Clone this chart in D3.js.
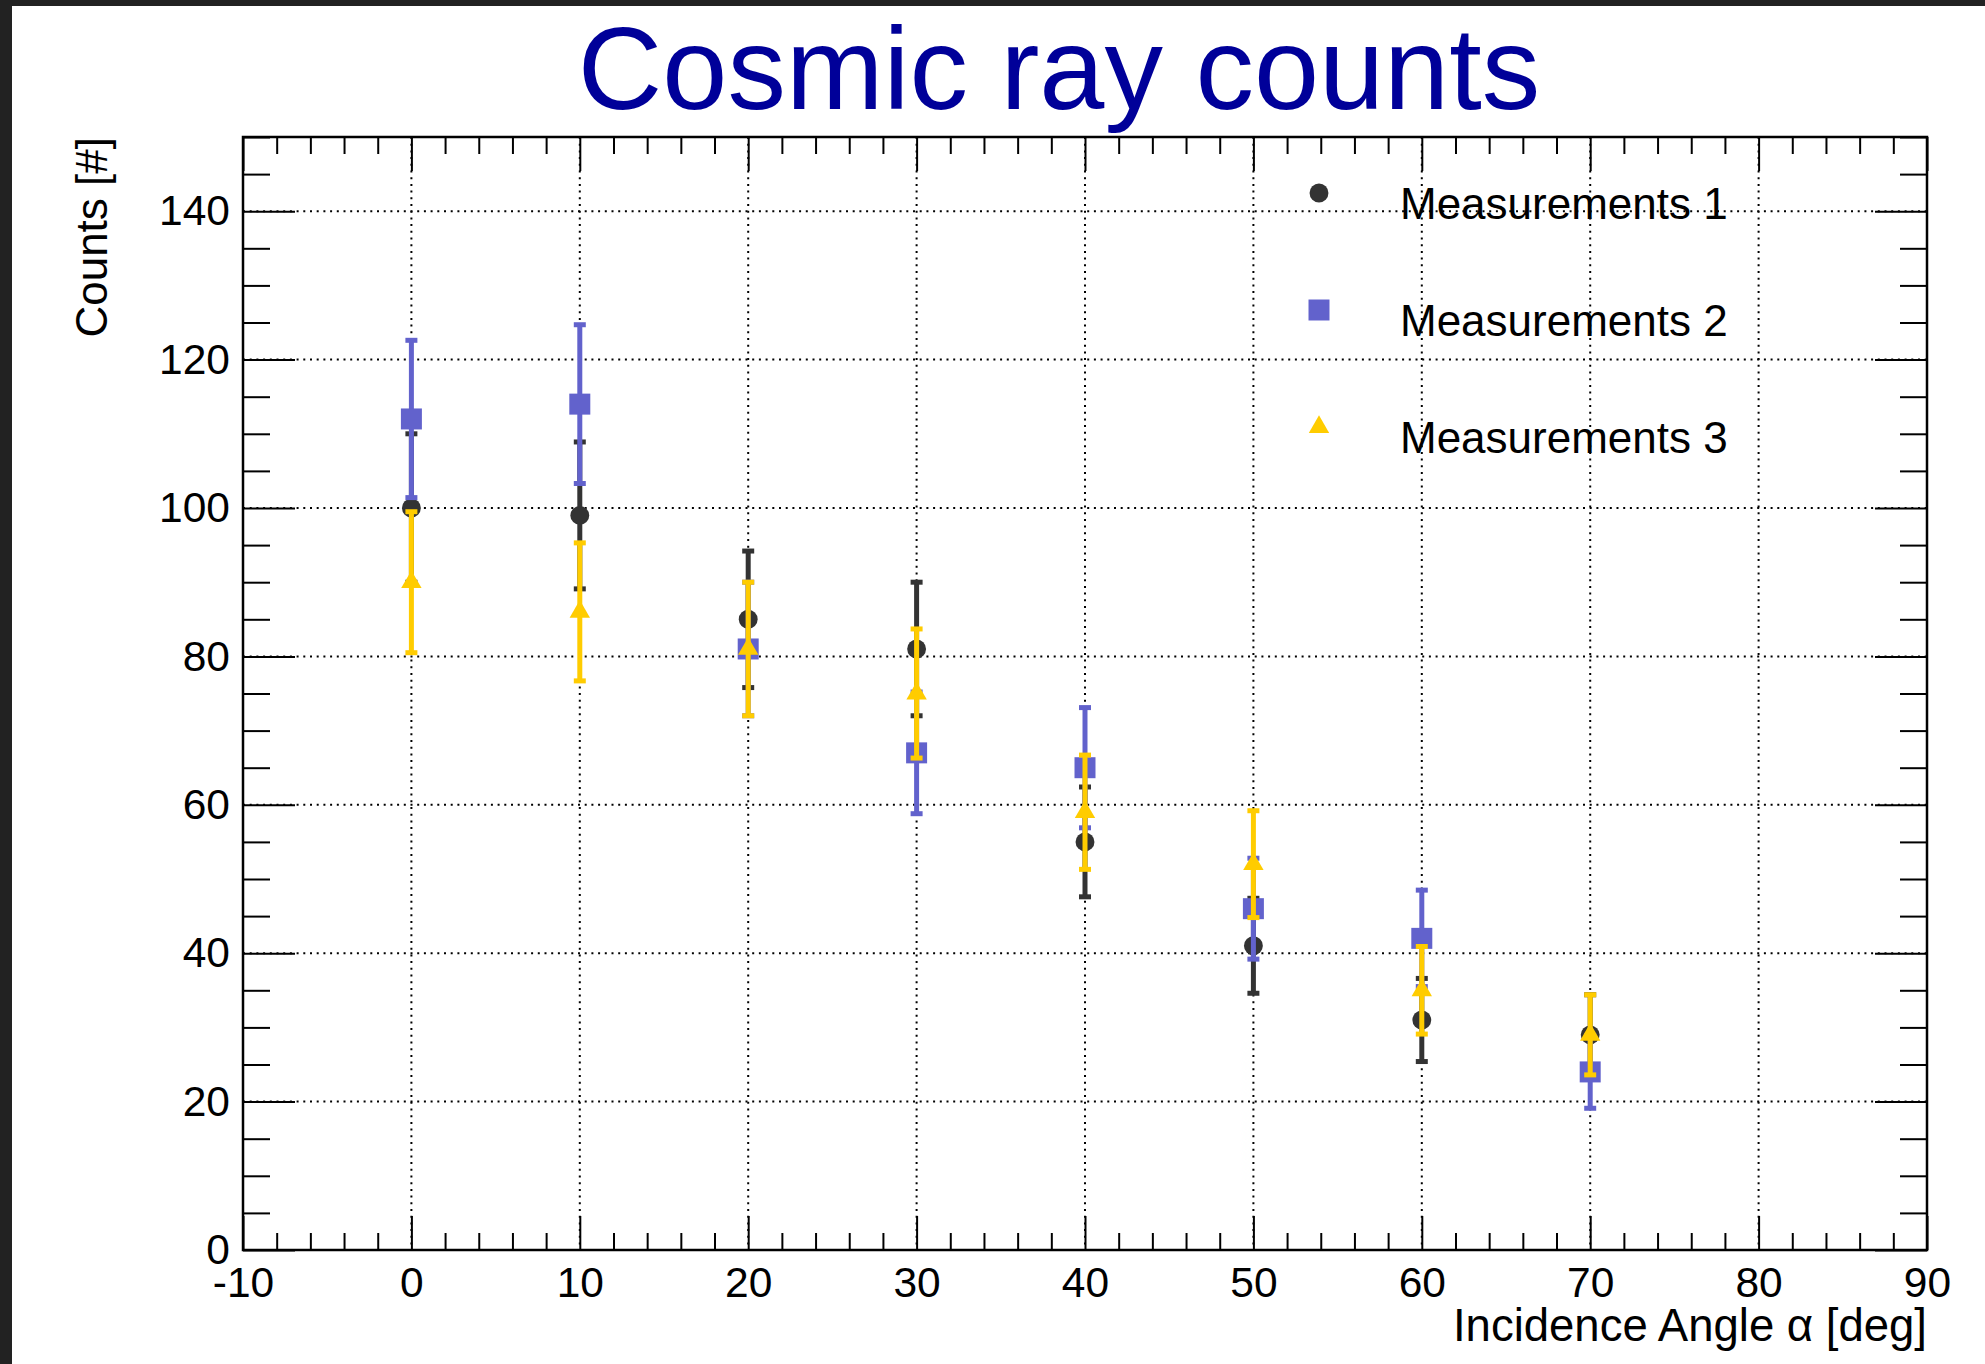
<!DOCTYPE html>
<html>
<head>
<meta charset="utf-8">
<script src="https://cdn.jsdelivr.net/npm/d3@7"></script>
<style>
  html, body { margin: 0; padding: 0; background: #222; }
  svg { display: block; font-family: "Liberation Sans", Arial, sans-serif; }
</style>
</head>
<body>
<svg id="chart" width="1985" height="1364"></svg>
<script>
// incidence angles and the three measurement runs (counts, error)
const angles = [0, 10, 20, 30, 40, 50, 60, 70];
const counts1 = [100, 99, 85, 81, 55, 41, 31, 29];
const errors1 = [10, 9.9, 9.2, 9, 7.4, 6.4, 5.6, 5.4];
const counts2 = [112, 114, 81, 67, 65, 46, 42, 24];
const errors2 = [10.6, 10.7, 9, 8.2, 8.1, 6.8, 6.5, 4.9];
const counts3 = [90, 86, 81, 75, 59, 52, 35, 29];
const errors3 = [9.5, 9.3, 9, 8.7, 7.7, 7.2, 5.9, 5.4];
const seriesNames = ["Measurements 1", "Measurements 2", "Measurements 3"];

const xMajor = [-10, 0, 10, 20, 30, 40, 50, 60, 70, 80, 90];
const yMajor = [0, 20, 40, 60, 80, 100, 120, 140];

const W = 1985, H = 1364;
const frameL = 243, frameR = 1927, frameT = 137, frameB = 1250;

const svg = d3.select("#chart");

// dark window edge + white pad
svg.append("rect").attr("width", W).attr("height", H).attr("fill", "#222");
svg.append("rect").attr("x", 12).attr("y", 6)
    .attr("width", W - 12).attr("height", H - 6).attr("fill", "white");

const x = d3.scaleLinear().domain([-10, 90]).range([frameL, frameR]);
const y = d3.scaleLinear().domain([0, 150]).range([frameB, frameT]);

const xMinor = d3.range(-10, 90.001, 2).filter(v => xMajor.indexOf(v) < 0);
const yMinor = d3.range(0, 150.001, 5).filter(v => yMajor.indexOf(v) < 0);

// plain hyphen minus like the original, not the unicode one
const fmt = d => String(d);

// grid
const grid = svg.append("g")
    .attr("stroke", "black")
    .attr("stroke-width", 2)
    .attr("stroke-dasharray", "2,4.7");
grid.selectAll(".gx")
    .data(xMajor.filter(v => v > -10 && v < 90))
    .join("line")
    .attr("x1", d => x(d)).attr("x2", d => x(d))
    .attr("y1", frameT).attr("y2", frameB);
grid.selectAll(".gy")
    .data(yMajor.filter(v => v > 0))
    .join("line")
    .attr("y1", d => y(d)).attr("y2", d => y(d))
    .attr("x1", frameL).attr("x2", frameR);

// axes, ticks pointing inward on all four sides
function styleAxis(g) {
    g.select(".domain").remove();
    g.selectAll(".tick line").attr("stroke", "black").attr("stroke-width", 2);
    g.selectAll("text").attr("fill", "black").attr("font-size", 42.5)
        .attr("font-family", "Liberation Sans, Arial, sans-serif");
}

svg.append("g").attr("transform", `translate(0,${frameB})`)
    .call(d3.axisBottom(x).tickValues(xMajor).tickSize(-34).tickSizeOuter(0).tickPadding(17)
        .tickFormat(fmt))
    .call(styleAxis);
svg.append("g").attr("transform", `translate(0,${frameB})`)
    .call(d3.axisBottom(x).tickValues(xMinor).tickSize(-17).tickSizeOuter(0).tickFormat(""))
    .call(styleAxis);
svg.append("g").attr("transform", `translate(0,${frameT})`)
    .call(d3.axisTop(x).tickValues(xMajor).tickSize(-34).tickSizeOuter(0).tickFormat(""))
    .call(styleAxis);
svg.append("g").attr("transform", `translate(0,${frameT})`)
    .call(d3.axisTop(x).tickValues(xMinor).tickSize(-17).tickSizeOuter(0).tickFormat(""))
    .call(styleAxis);

svg.append("g").attr("transform", `translate(${frameL},0)`)
    .call(d3.axisLeft(y).tickValues(yMajor).tickSize(-52).tickSizeOuter(0).tickPadding(13)
        .tickFormat(fmt))
    .call(styleAxis);
svg.append("g").attr("transform", `translate(${frameL},0)`)
    .call(d3.axisLeft(y).tickValues(yMinor).tickSize(-27).tickSizeOuter(0).tickFormat(""))
    .call(styleAxis);
svg.append("g").attr("transform", `translate(${frameR},0)`)
    .call(d3.axisRight(y).tickValues(yMajor).tickSize(-52).tickSizeOuter(0).tickFormat(""))
    .call(styleAxis);
svg.append("g").attr("transform", `translate(${frameR},0)`)
    .call(d3.axisRight(y).tickValues(yMinor).tickSize(-27).tickSizeOuter(0).tickFormat(""))
    .call(styleAxis);

// frame
svg.append("rect")
    .attr("x", frameL).attr("y", frameT)
    .attr("width", frameR - frameL).attr("height", frameB - frameT)
    .attr("fill", "none").attr("stroke", "black").attr("stroke-width", 2.5);

// series
const series = [
    {name: seriesNames[0], values: counts1, errors: errors1, color: "#333333",
        symbol: d3.symbol().type(d3.symbolCircle).size(280)},
    {name: seriesNames[1], values: counts2, errors: errors2, color: "#6262cc",
        symbol: d3.symbol().type(d3.symbolSquare).size(441)},
    {name: seriesNames[2], values: counts3, errors: errors3, color: "#ffcc00",
        symbol: d3.symbol().type(d3.symbolTriangle).size(180)}
];

series.forEach(s => {
    const pts = angles.map((a, i) => ({a: a, v: s.values[i], e: s.errors[i]}));
    const g = svg.append("g");
    g.selectAll(".bar")
        .data(pts)
        .join("line")
        .attr("x1", d => x(d.a)).attr("x2", d => x(d.a))
        .attr("y1", d => y(d.v - d.e)).attr("y2", d => y(d.v + d.e))
        .attr("stroke", s.color).attr("stroke-width", 5);
    g.selectAll(".cap")
        .data(pts.flatMap(d => [d.v - d.e, d.v + d.e].map(c => ({a: d.a, c: c}))))
        .join("line")
        .attr("x1", d => x(d.a) - 6).attr("x2", d => x(d.a) + 6)
        .attr("y1", d => y(d.c)).attr("y2", d => y(d.c))
        .attr("stroke", s.color).attr("stroke-width", 5);
    g.selectAll(".marker")
        .data(pts)
        .join("path")
        .attr("d", s.symbol)
        .attr("transform", d => `translate(${x(d.a)},${y(d.v)})`)
        .attr("fill", s.color);
});

// legend
const legendY = [193, 310, 427];
const legend = svg.append("g");
series.forEach((s, i) => {
    legend.append("path")
        .attr("d", s.symbol)
        .attr("transform", `translate(1319,${legendY[i]})`)
        .attr("fill", s.color);
    legend.append("text")
        .attr("x", 1400).attr("y", legendY[i] + 26)
        .attr("font-size", 44)
        .attr("fill", "black")
        .text(s.name);
});

// titles
svg.append("text")
    .attr("x", 1059).attr("y", 109)
    .attr("text-anchor", "middle")
    .attr("font-size", 117)
    .attr("fill", "#000099")
    .text("Cosmic ray counts");

svg.append("text")
    .attr("x", frameR).attr("y", 1341)
    .attr("text-anchor", "end")
    .attr("font-size", 45.5)
    .attr("fill", "black")
    .text("Incidence Angle α [deg]");

svg.append("text")
    .attr("transform", `translate(107,${frameT}) rotate(-90)`)
    .attr("text-anchor", "end")
    .attr("font-size", 44)
    .attr("fill", "black")
    .text("Counts [#]");
</script>
</body>
</html>
